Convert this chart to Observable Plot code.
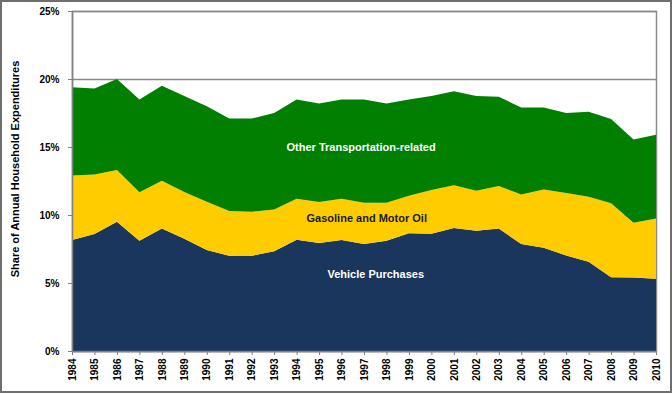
<!DOCTYPE html>
<html>
<head>
<meta charset="utf-8">
<script src="https://cdn.jsdelivr.net/npm/d3@7"></script>
<script src="https://cdn.jsdelivr.net/npm/@observablehq/plot@0.6"></script>
<style>
  html, body { margin: 0; padding: 0; background: #fff; }
  #wrap { position: relative; width: 672px; height: 395px; }
  #border { position: absolute; left: 0; top: 0; width: 672px; height: 393px; box-sizing: border-box; border: 2px solid #6e6e6e; pointer-events: none; }
</style>
</head>
<body>
<div id="wrap"><div id="border"></div></div>
<script>
const years = [1984,1985,1986,1987,1988,1989,1990,1991,1992,1993,1994,1995,1996,1997,1998,1999,2000,2001,2002,2003,2004,2005,2006,2007,2008,2009,2010];
// Shares of annual household expenditures (%)
const vehiclePurchases = [8.16,8.60,9.50,8.10,9.00,8.26,7.43,7.00,7.00,7.33,8.18,7.94,8.16,7.87,8.10,8.65,8.63,9.04,8.85,9.00,7.87,7.60,7.03,6.57,5.42,5.40,5.32];
const gasolineMotorOil = [4.74,4.38,3.80,3.57,3.52,3.44,3.55,3.29,3.24,3.07,3.02,3.02,3.04,3.03,2.80,2.77,3.21,3.14,2.94,3.13,3.63,4.28,4.59,4.78,5.44,4.03,4.43];
const otherTransport   = [6.50,6.32,6.70,6.83,6.98,7.05,7.02,6.81,6.86,7.10,7.30,7.24,7.30,7.60,7.30,7.08,6.91,6.92,6.96,6.57,6.40,6.02,5.88,6.25,6.19,6.12,6.15];
const seriesNames = ["Vehicle Purchases", "Gasoline and Motor Oil", "Other Transportation-related"];
const seriesColors = ["#1a365d", "#ffcc00", "#007f00"];
const yTicks = [0, 5, 10, 15, 20, 25];

const seriesValues = [vehiclePurchases, gasolineMotorOil, otherTransport];
const data = [];
seriesNames.forEach((name, si) => {
  years.forEach((yr, i) => data.push({year: yr, series: name, value: seriesValues[si][i]}));
});

const font = "'Liberation Sans', Arial, sans-serif";

const chart = Plot.plot({
  width: 672,
  height: 395,
  marginLeft: 72,
  marginRight: 16,
  marginTop: 11,
  marginBottom: 44,
  style: {fontFamily: font, fontSize: "10px", fontWeight: "bold", color: "#000", background: "transparent"},
  x: {domain: [years[0], years[years.length - 1]], label: null},
  y: {domain: [0, 25], label: null},
  color: {domain: seriesNames, range: seriesColors},
  marks: [
    Plot.ruleY(yTicks, {stroke: "#8a8a8a", strokeWidth: 1.5}),
    Plot.frame({stroke: "#8a8a8a", strokeWidth: 1.5}),
    Plot.areaY(data, {x: "year", y: "value", z: "series", fill: "series", order: seriesNames, curve: "linear"}),
    Plot.ruleX([years[0]], {stroke: "#808080", strokeWidth: 1.5}),
    Plot.ruleY([0], {stroke: "#808080", strokeWidth: 1.5}),
    Plot.axisY({ticks: yTicks, tickFormat: d => d + "%", tickSize: 4, tickPadding: 9, stroke: "#808080", label: null, fontSize: 10}),
    Plot.axisX({ticks: years, tickFormat: d => String(d), tickSize: 4, tickRotate: -90, tickPadding: 3, stroke: "#808080", label: null, fontSize: 10}),
    Plot.text([seriesNames[2]], {x: 1996.85, y: 15.0, text: d => d, fill: "#fff", fontSize: 11, fontWeight: "bold"}),
    Plot.text([seriesNames[1]], {x: 1997.1, y: 9.76, text: d => d, fill: "#1a1a1a", fontSize: 11, fontWeight: "bold"}),
    Plot.text([seriesNames[0]], {x: 1997.5, y: 5.64, text: d => d, fill: "#fff", fontSize: 11, fontWeight: "bold"})
  ]
});

// Y axis title
const svg = d3.select(chart);
svg.append("text")
  .attr("transform", "translate(16,169) rotate(-90)")
  .attr("text-anchor", "middle")
  .attr("dominant-baseline", "middle")
  .style("font-family", font)
  .style("font-size", "11px")
  .style("font-weight", "bold")
  .attr("fill", "#000")
  .text("Share of Annual Household Expenditures");

document.getElementById("wrap").prepend(chart);
</script>
</body>
</html>
